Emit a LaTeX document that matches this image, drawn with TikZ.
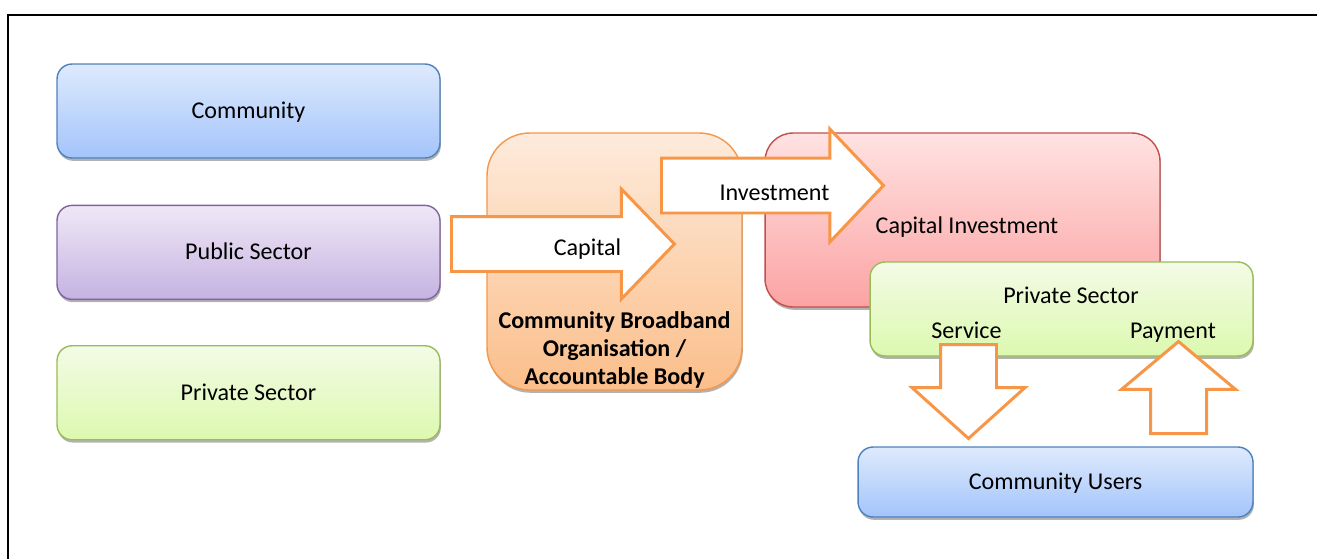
\documentclass[tikz,border=0pt]{standalone}
\usepackage{fontspec}
\setmainfont{Carlito}
\usepackage{tikz}
\usetikzlibrary{positioning}
\usetikzlibrary{shapes.arrows}
\usetikzlibrary{shadows}

\definecolor{blueTop}{HTML}{DEEAFD}
\definecolor{blueBot}{HTML}{A3C4FB}
\definecolor{blueLine}{HTML}{4F81BD}
\definecolor{purpleTop}{HTML}{EFE8F7}
\definecolor{purpleBot}{HTML}{C5B2E1}
\definecolor{purpleLine}{HTML}{8064A2}
\definecolor{greenTop}{HTML}{F3FBE6}
\definecolor{greenBot}{HTML}{DCF9AF}
\definecolor{greenLine}{HTML}{9BBB59}
\definecolor{orangeTop}{HTML}{FDEBDC}
\definecolor{orangeBot}{HTML}{FBBE8A}
\definecolor{orangeLine}{HTML}{F79646}
\definecolor{redTop}{HTML}{FFE2E2}
\definecolor{redBot}{HTML}{FCA3A3}
\definecolor{redLine}{HTML}{C0504D}

\newcommand{\diagfont}{\fontsize{13.7}{15.9}\selectfont}

\tikzset{
  box/.style={draw, rounded corners=0.3cm, line width=0.8pt,
    minimum width=7.66cm, minimum height=1.88cm,
    text height=2ex, text depth=.25ex,
    drop shadow={shadow xshift=0.5pt, shadow yshift=-1.6pt, fill=black!60}},
  bluebox/.style={box, draw=blueLine, top color=blueTop, bottom color=blueBot},
  purplebox/.style={box, draw=purpleLine, top color=purpleTop, bottom color=purpleBot},
  greenbox/.style={box, draw=greenLine, top color=greenTop, bottom color=greenBot},
  orangebox/.style={box, draw=orangeLine, top color=orangeTop, bottom color=orangeBot},
  redbox/.style={box, draw=redLine, top color=redTop, bottom color=redBot},
  flow/.style={single arrow, draw=orangeLine, fill=white, line width=1.7pt,
    inner xsep=0pt, inner ysep=0.52cm, anchor=tail},
  lbl/.style={inner sep=0pt, text height=2ex, text depth=.25ex},
}

\begin{document}
\begin{tikzpicture}[x=0.02cm, y=-0.02cm, font=\diagfont]
\useasboundingbox (0,0) rectangle (1317,559);
\draw [line width=1.1pt] (1317,15) -| (8,559);

% funders
\node (community) [bluebox] at (248.5,111) {Community};
\node (public) [purplebox, below=0.92cm of community] {Public Sector};
\node (private) [greenbox, below=0.9cm of public] {Private Sector};

% organisation and investment
\node (cbo) [orangebox, rounded corners=0.85cm, minimum width=5.1cm, minimum height=5.14cm] at (614.5,261.5) {};
\node (cbo_text) [align=center, font=\diagfont\bfseries, inner sep=0pt, above=0.05cm of cbo.south] {Community Broadband\\Organisation /\\Accountable Body};

\node (invest) [redbox, rounded corners=0.56cm, minimum width=7.9cm, minimum height=3.48cm] at (962.5,220) {};
\node (invest_text) [lbl] at (967,226.5) {Capital Investment};

\node (capital) [flow, minimum height=4.46cm, minimum width=2.14cm, single arrow head extend=0.55cm, single arrow tip angle=92] at (450,244) {};
\node (capital_text) [lbl] at (587.5,248.5) {Capital};

\node (investment) [flow, minimum height=4.44cm, minimum width=2.2cm, single arrow head extend=0.58cm, single arrow tip angle=93] at (660,185.5) {};
\node (investment_text) [lbl] at (774.5,193.5) {Investment};

% operator and users
\node (operator) [greenbox] at (1061.5,309) {};
\node (operator_text) [lbl] at (1071,296.5) {Private Sector};
\node (service_text) [lbl] at (966.5,331) {Service};
\node (payment_text) [lbl] at (1173,331) {Payment};

\node (users) [bluebox, minimum width=7.9cm, minimum height=1.4cm] at (1055.5,482) {Community Users};

\node (service) [flow, rotate=-90, inner ysep=0.53cm, minimum height=1.88cm, minimum width=2.2cm, single arrow head extend=0.57cm, single arrow tip angle=96] at (968.5,343) {};
\node (payment) [flow, rotate=90, inner ysep=0.53cm, minimum height=1.84cm, minimum width=2.22cm, single arrow head extend=0.58cm, single arrow tip angle=100] at (1178.5,435) {};
\end{tikzpicture}
\end{document}
